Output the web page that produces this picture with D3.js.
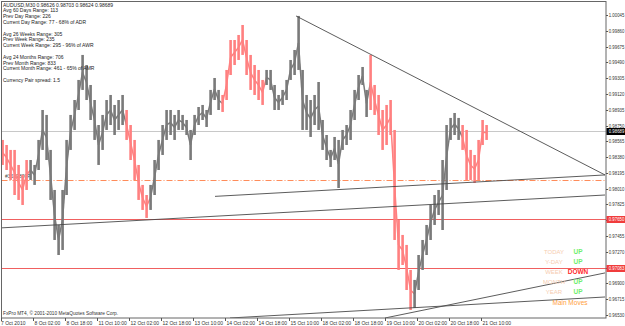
<!DOCTYPE html>
<html lang="en">
<head>
<meta charset="UTF-8">
<title>AUDUSD,M30</title>
<script src="https://cdn.jsdelivr.net/npm/d3@7"></script>
<style>
  body { margin: 0; background: #fff; overflow: hidden; }
  text { font-family: "Liberation Sans", Arial, sans-serif; }
</style>
</head>
<body>
<script>
// one sample = 4 M30 bars (2 hours)
var barStep = 4;
var barHigh = [
  0.98581, 0.98522, 0.98464, 0.98464, 0.98288, 0.98171, 0.98346, 0.98346, 0.98288, 0.98581,
  0.98932, 0.98874, 0.98464, 0.97995, 0.97585, 0.97995, 0.98581, 0.98874, 0.99049, 0.99284,
  0.99577, 0.99459, 0.99225, 0.99049, 0.98756, 0.98874, 0.99049, 0.99108, 0.98991, 0.99049,
  0.99108, 0.98932, 0.98756, 0.98581, 0.98288, 0.98054, 0.97936, 0.98054, 0.98346, 0.98581,
  0.98756, 0.98932, 0.98932, 0.98874, 0.98932, 0.98874, 0.98815, 0.98698, 0.98874, 0.98967,
  0.98991, 0.98932, 0.99167, 0.99307, 0.99167, 0.99108, 0.99401, 0.99752, 0.99752, 0.99811,
  0.99928, 0.99752, 0.99577, 0.99459, 0.99401, 0.99284, 0.99401, 0.99401, 0.99225, 0.99108,
  0.99167, 0.99284, 0.99518, 0.99635, 1.00034, 0.99401, 0.99108, 0.99049, 0.99108, 0.99260,
  0.98815, 0.98639, 0.98464, 0.98616, 0.98581, 0.98698, 0.98756, 0.98932, 0.99167, 0.99342,
  0.99436, 0.99167, 0.99577, 0.99225, 0.99108, 0.98932, 0.98991, 0.99049, 0.98698, 0.97644,
  0.97468, 0.97351, 0.97058, 0.96941, 0.97233, 0.97409, 0.97585, 0.97819, 0.97936, 0.97995,
  0.98346, 0.98756, 0.98839, 0.98897, 0.98839, 0.98756, 0.98698, 0.98464, 0.98405, 0.98581,
  0.98815, 0.98756
];
var barLow = [
  0.98288, 0.98229, 0.98112, 0.97936, 0.97878, 0.97819, 0.97995, 0.98112, 0.98054, 0.98229,
  0.98464, 0.98346, 0.97878, 0.97409, 0.97233, 0.97292, 0.97936, 0.98464, 0.98698, 0.98932,
  0.99167, 0.99049, 0.98815, 0.98581, 0.98288, 0.98464, 0.98698, 0.98756, 0.98639, 0.98698,
  0.98756, 0.98581, 0.98346, 0.98112, 0.97878, 0.97761, 0.97667, 0.97761, 0.97936, 0.98229,
  0.98405, 0.98581, 0.98639, 0.98581, 0.98698, 0.98698, 0.98639, 0.98346, 0.98639, 0.98756,
  0.98815, 0.98733, 0.98874, 0.99049, 0.98932, 0.98909, 0.99049, 0.99342, 0.99459, 0.99518,
  0.99577, 0.99342, 0.99167, 0.99108, 0.99049, 0.98991, 0.99225, 0.99167, 0.98932, 0.98932,
  0.98991, 0.99049, 0.99284, 0.99342, 0.99401, 0.98698, 0.98698, 0.98616, 0.98756, 0.98698,
  0.98464, 0.98346, 0.98264, 0.98346, 0.98018, 0.98464, 0.98522, 0.98581, 0.98815, 0.99049,
  0.99225, 0.98850, 0.98932, 0.98874, 0.98639, 0.98464, 0.98522, 0.98639, 0.97409, 0.97058,
  0.97116, 0.96823, 0.96589, 0.96612, 0.96823, 0.97058, 0.97233, 0.97409, 0.97585, 0.97702,
  0.97526, 0.97995, 0.98581, 0.98639, 0.98581, 0.98464, 0.98112, 0.98112, 0.98077, 0.98112,
  0.98522, 0.98581
];
// bar index ranges painted in the second colour
var downRanges = [[0, 24], [124, 144], [220, 260], [368, 408], [460, 484]];

var priceTicks = [1.00045, 0.99860, 0.99675, 0.99490, 0.99305, 0.99120, 0.98935, 0.98750, 0.98565, 0.98380,
  0.98195, 0.98010, 0.97825, 0.97640, 0.97455, 0.97270, 0.97085, 0.96900, 0.96715, 0.96530];
var timeTickBars = [0, 32, 64, 96, 128, 160, 192, 224, 256, 288, 320, 352, 384, 416, 448, 480];
var timeTickLabels = ['7 Oct 2010', '8 Oct 02:00', '8 Oct 18:00', '11 Oct 10:00', '12 Oct 02:00', '12 Oct 18:00',
  '13 Oct 10:00', '14 Oct 02:00', '14 Oct 18:00', '15 Oct 10:00', '18 Oct 02:00', '18 Oct 18:00',
  '19 Oct 10:00', '20 Oct 02:00', '20 Oct 18:00', '21 Oct 10:00'];

// trend lines: [bar1, price1, bar2, price2]
var trendLines = [
  [295, 1.00034, 604, 0.98171],
  [214, 0.97920, 604, 0.98171],
  [-1, 0.97550, 604, 0.97936],
  [384, 0.96495, 604, 0.97023],
  [229, 0.96495, 604, 0.96741]
];
var redLevels = [0.97650, 0.97083];
var redLabels = ['0.97650', '0.97083'];
var pivotLevel = 0.98110;
var lastPrice = 0.98689;

var infoLines = ['AUDUSD,M30  0.98626 0.98703 0.98624 0.98689', 'Avg 60 Days Range: 113', 'Prev Day Range: 226',
  'Current Day Range: 77 - 68% of ADR', '', 'Avg 26 Weeks Range: 305', 'Prev Week Range: 235',
  'Current Week Range: 295 - 96% of AWR', '', 'Avg 24 Months Range: 706', 'Prev Month Range: 833',
  'Current Month Range: 461 - 65% of AMR', '', 'Currency Pair spread: 1.5'];
var moveNames = ['TODAY', 'Y-DAY', 'WEEK', 'MONTH', 'YEAR'];
var moveDirs = ['UP', 'UP', 'DOWN', 'UP', 'UP'];

var W = 625, H = 326;
var plot = {left: 1.5, top: 1.5, right: 606, bottom: 318};

var svg = d3.select('body').append('svg')
  .attr('width', W)
  .attr('height', H);

var x = d3.scaleLinear().domain([0, 604]).range([1, 605]);
var y = d3.scaleLinear().domain([0.96530, 1.00045]).range([315, 15]);

svg.append('clipPath').attr('id', 'clip')
  .append('rect')
  .attr('x', plot.left).attr('y', plot.top)
  .attr('width', plot.right - plot.left).attr('height', plot.bottom - plot.top);

var g = svg.append('g').attr('clip-path', 'url(#clip)');

// last price line
g.append('line')
  .attr('x1', plot.left).attr('x2', plot.right)
  .attr('y1', Math.round(y(lastPrice)) + 0.5).attr('y2', Math.round(y(lastPrice)) + 0.5)
  .attr('stroke', '#c8c8c8');

// pivot dash-dot
g.append('line')
  .attr('x1', plot.left).attr('x2', plot.right)
  .attr('y1', Math.round(y(pivotLevel)) + 0.5).attr('y2', Math.round(y(pivotLevel)) + 0.5)
  .attr('stroke', '#ff8c5a')
  .attr('stroke-dasharray', '6,2,1,2');

g.append('text')
  .attr('x', 5).attr('y', y(pivotLevel) - 2)
  .attr('font-size', 5).attr('fill', '#444')
  .text('#3519800P');

// red levels
g.selectAll('.red-level')
  .data(redLevels)
  .enter().append('line')
  .attr('class', 'red-level')
  .attr('x1', plot.left).attr('x2', plot.right)
  .attr('y1', function (d) { return Math.round(y(d)) + 0.5; })
  .attr('y2', function (d) { return Math.round(y(d)) + 0.5; })
  .attr('stroke', '#f06060');

// price trace
function isDown(i) {
  for (var k = 0; k < downRanges.length; k++) {
    if (i >= downRanges[k][0] && i <= downRanges[k][1]) return true;
  }
  return false;
}
function barColor(i) { return isDown(i * barStep) ? '#ff8080' : '#7a7a7a'; }

// thin connecting trace through the bar middles
var mid = barHigh.map(function (h, i) { return (h + barLow[i]) / 2; });
var midLine = d3.line()
  .x(function (d, i) { return x(i * barStep + 1.5); })
  .y(function (d) { return y(d); });

g.append('g').selectAll('.link')
  .data(d3.pairs(d3.range(mid.length)))
  .enter().append('path')
  .attr('class', 'link')
  .attr('d', function (p) {
    return 'M' + x(p[0] * barStep + 1.5) + ',' + y(mid[p[0]]) + 'L' + x(p[1] * barStep + 1.5) + ',' + y(mid[p[1]]);
  })
  .attr('stroke', function (p) { return barColor(p[0]); })
  .attr('stroke-width', 1.5)
  .attr('fill', 'none');

g.append('g').selectAll('.bar')
  .data(barHigh)
  .enter().append('rect')
  .attr('class', 'bar')
  .attr('x', function (d, i) { return x(i * barStep) + 0.3; })
  .attr('width', 2.6)
  .attr('y', function (d) { return y(d); })
  .attr('height', function (d, i) { return Math.max(1, y(barLow[i]) - y(d)); })
  .attr('fill', function (d, i) { return barColor(i); });

// trend lines
g.selectAll('.trend')
  .data(trendLines)
  .enter().append('line')
  .attr('class', 'trend')
  .attr('x1', function (d) { return x(d[0]); })
  .attr('y1', function (d) { return y(d[1]); })
  .attr('x2', function (d) { return x(d[2]); })
  .attr('y2', function (d) { return y(d[3]); })
  .attr('stroke', '#4a4a4a')
  .attr('stroke-width', 0.9);

// info text
svg.append('g').selectAll('text')
  .data(infoLines)
  .enter().append('text')
  .attr('x', 3)
  .attr('y', function (d, i) { return 6.5 + i * 5.8; })
  .attr('font-size', 5)
  .attr('fill', '#222')
  .text(function (d) { return d; });

svg.append('text')
  .attr('x', 3).attr('y', 315)
  .attr('font-size', 4.8).attr('fill', '#333')
  .text('FxPro MT4, \u00a9 2001-2010 MetaQuotes Software Corp.');

// main moves panel
var mm = svg.append('g');
mm.selectAll('.mname')
  .data(moveNames)
  .enter().append('text')
  .attr('x', 554)
  .attr('y', function (d, i) { return 254 + i * 10; })
  .attr('text-anchor', 'middle')
  .attr('font-size', 6)
  .attr('fill', '#f6cdb0')
  .text(function (d) { return d; });
mm.selectAll('.mdir')
  .data(moveDirs)
  .enter().append('text')
  .attr('x', 578)
  .attr('y', function (d, i) { return 254 + i * 10; })
  .attr('text-anchor', 'middle')
  .attr('font-size', 6.5)
  .attr('font-weight', 'bold')
  .attr('fill', function (d) { return d === 'UP' ? '#6fef6f' : '#ff2a2a'; })
  .text(function (d) { return d; });
mm.append('text')
  .attr('x', 570).attr('y', 305)
  .attr('text-anchor', 'middle')
  .attr('font-size', 6.5)
  .attr('fill', '#ffa040')
  .text('Main Moves');

// frame
svg.append('rect')
  .attr('x', plot.left).attr('y', plot.top)
  .attr('width', plot.right - plot.left).attr('height', plot.bottom - plot.top)
  .attr('fill', 'none')
  .attr('stroke', '#666');

// price axis
var axisY = svg.append('g').attr('transform', 'translate(' + plot.right + ',0)');
axisY.selectAll('.tick')
  .data(priceTicks)
  .enter().append('g')
  .attr('transform', function (d) { return 'translate(0,' + (Math.round(y(d)) + 0.5) + ')'; })
  .each(function (d) {
    var t = d3.select(this);
    t.append('line').attr('x2', 2).attr('stroke', '#555');
    t.append('text').attr('x', 2.8).attr('dy', 1.7)
      .attr('font-size', 4.6).attr('fill', '#333')
      .attr('textLength', 15.5).attr('lengthAdjust', 'spacingAndGlyphs')
      .text(d.toFixed(5));
  });

function priceBox(p, label, bg) {
  var yy = Math.round(y(p));
  svg.append('rect')
    .attr('x', plot.right + 0.5).attr('y', yy - 3)
    .attr('width', 18.5).attr('height', 7)
    .attr('fill', bg);
  svg.append('text')
    .attr('x', plot.right + 2.8).attr('y', yy + 2.2)
    .attr('font-size', 4.6).attr('fill', '#fff')
    .attr('textLength', 15.5).attr('lengthAdjust', 'spacingAndGlyphs')
    .text(label);
}
priceBox(redLevels[0], redLabels[0], '#f03c3c');
priceBox(redLevels[1], redLabels[1], '#f03c3c');
priceBox(lastPrice, lastPrice.toFixed(5), '#000');

// time axis
var axisX = svg.append('g').attr('transform', 'translate(0,' + plot.bottom + ')');
axisX.selectAll('.tick')
  .data(timeTickBars)
  .enter().append('g')
  .attr('transform', function (d) { return 'translate(' + (Math.round(x(d)) + 0.5) + ',0)'; })
  .each(function (d, i) {
    var t = d3.select(this);
    t.append('line').attr('y2', 3).attr('stroke', '#555');
    t.append('text').attr('x', i === 0 ? -0.5 : 1).attr('y', 6.5)
      .attr('font-size', 5).attr('fill', '#333')
      .text(timeTickLabels[i]);
  });
</script>
</body>
</html>
